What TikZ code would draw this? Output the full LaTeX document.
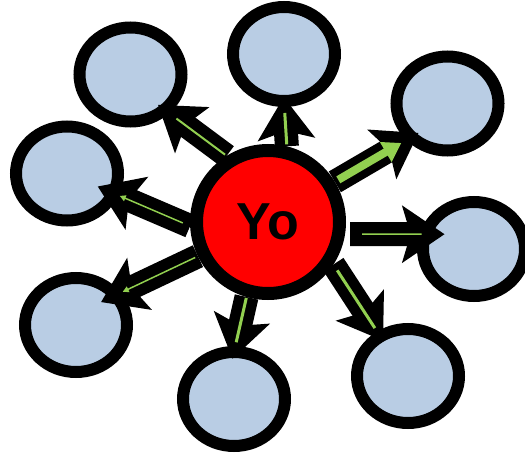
\documentclass[tikz,border=0pt]{standalone}
\usepackage{fontspec}
\setmainfont{Liberation Sans}
\usetikzlibrary{shapes, arrows.meta, positioning}
\definecolor{bubblefill}{RGB}{185,205,228}
\definecolor{leafgreen}{RGB}{146,208,80}

\begin{document}
\begin{tikzpicture}[x=1pt, y=-1pt]
  \tikzstyle{hub} = [circle, draw, line width=13pt, fill=red, minimum size=143pt, inner sep=0pt, font=\bfseries\fontsize{52}{52}\selectfont]
  \tikzstyle{bubble} = [ellipse, draw, line width=12pt, fill=bubblefill, minimum width=102pt, minimum height=94pt, inner sep=0pt, outer sep=0pt]
  \tikzstyle{spoke} = [draw, line width=24pt, -{Stealth[width=56pt, length=42pt, inset=8pt]}]
  \tikzstyle{vein} = [draw=leafgreen]
  \useasboundingbox (0,0) rectangle (525,455);
  \node [hub] (me) at (268,222) {Yo};
  \node [bubble] (tl) at (130.5,74.5) {};
  \node [bubble] (t) at (284,54) {};
  \node [bubble] (tr) at (447.5,103.5) {};
  \node [bubble] (l) at (67,173.5) {};
  \node [bubble] (r) at (474,249) {};
  \node [bubble] (bl) at (76,325) {};
  \node [bubble] (b) at (234,399) {};
  \node [bubble] (br) at (408,376) {};
  % black spokes
  \path [spoke, shorten >=-8pt] (me.122) -- (tl.-46);
  \path [spoke, shorten >=-4pt] (me.76) -- (t.-90);
  \path [spoke, shorten >=-8pt] (me.31) -- (tr.-137);
  \path [spoke, shorten <=5pt, shorten >=-19pt] (me.-9) -- (r.163);
  \path [spoke, shorten >=-5pt] (me.-33) -- (br.125);
  \path [spoke, shorten >=-7pt] (me.-106) -- (b.90);
  \path [spoke, shorten >=-16pt] (me.206) -- (bl.37);
  \path [spoke, shorten >=-17pt] (me.183) -- (l.-23);
  % green lines on top
  \path [vein, line width=2pt, shorten <=2pt, shorten >=15pt] (me.122) -- (tl.-46);
  \path [vein, line width=3pt, shorten <=2pt, shorten >=12pt] (me.76) -- (t.-90);
  \path [vein, line width=8pt, shorten <=4pt, shorten >=12pt, -{Triangle[width=22pt, length=18pt]}] (me.31) -- (tr.-137);
  \path [vein, line width=1.5pt, shorten <=17pt, shorten >=4pt] (me.-9) -- (r.163);
  \path [vein, line width=3pt, shorten <=7pt, shorten >=10pt] (me.-33) -- (br.125);
  \path [vein, line width=3pt, shorten <=1pt, shorten >=10pt] (me.-106) -- (b.90);
  \path [vein, line width=1.5pt, shorten <=3pt, shorten >=8pt, -{Triangle[width=6pt, length=6pt]}] (me.206) -- (bl.37);
  \path [vein, line width=1.5pt, shorten <=8pt, shorten >=7pt, -{Triangle[width=6pt, length=6pt]}] (me.183) -- (l.-23);
\end{tikzpicture}
\end{document}
